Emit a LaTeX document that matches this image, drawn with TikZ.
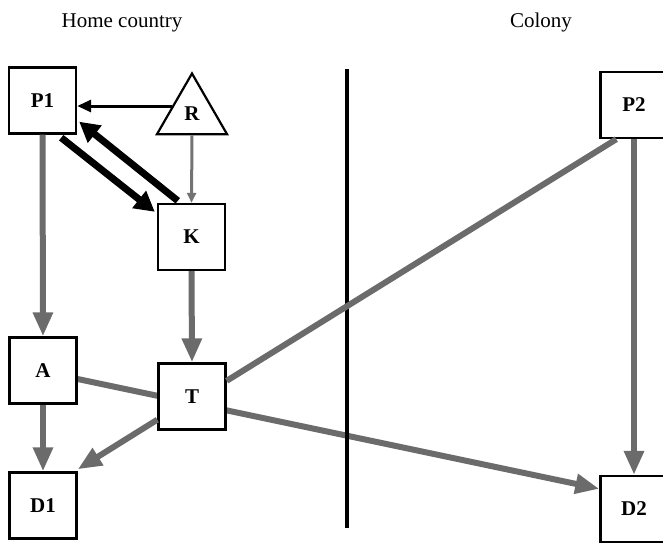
\documentclass[tikz,border=0pt]{standalone}
\usepackage{fontspec}
\setmainfont{Liberation Serif}
\usetikzlibrary{arrows.meta,shapes.geometric,calc,backgrounds}

\begin{document}
\begin{tikzpicture}[x=1pt,y=-1pt,
  box/.style={draw=black,line width=2.4pt,fill=white,minimum width=67pt,minimum height=66pt,
    inner sep=0pt,font=\fontsize{21}{21}\selectfont\bfseries},
  tri/.style={draw=black,line width=2.2pt,fill=white,regular polygon,regular polygon sides=3,
    minimum size=81pt,inner sep=0pt,font=\fontsize{21}{21}\selectfont\bfseries},
  heading/.style={anchor=base,font=\fontsize{21}{21}\selectfont},
  flow/.style={draw=black!58,line width=6pt,-{Triangle[length=24pt,width=19pt]}},
  link/.style={draw=black!58,line width=6pt},
  thinflow/.style={draw=black!55,line width=3pt,-{Triangle[length=10pt,width=9pt]}},
  force/.style={draw=black,line width=7pt,-{Triangle[length=20pt,width=21pt]}},
  push/.style={draw=black,line width=3pt,-{Triangle[length=14pt,width=12pt]}}]
\useasboundingbox (0,0) rectangle (663,542);

% column headings and divider
\node[heading] (home) at (122,27) {Home country};
\node[heading] (colony) at (541,27) {Colony};
\coordinate (divtop) at (347,69);
\coordinate (divbot) at (347,528);
\draw[line width=4pt] (divtop) -- (divbot);

% home-country nodes
\node[box] (P1) at (42.5,100.5) {P1};
\node[tri] (R) at (192,114) {R};
\node[box] (K) at (191.5,237) {K};
\node[box] (A) at (43,370.5) {A};
\node[box] (T) at (192,396.5) {T};
\node[box] (D1) at (43,505.5) {D1};

% colony nodes
\node[box] (P2) at (634,105) {P2};
\node[box] (D2) at (634,509) {D2};

% long link from A to D2, passing behind T
\begin{scope}[on background layer]
\draw[flow] ($(A.east)+(0,8.5)$) -- ($(D2.north west)+(0,14)$);
\end{scope}

% black arrows
\draw[push] ($(R.center)+(-20,-8)$) -- (P1.east |- 0,106);
\draw[force] ($(P1.south east)+(-16,3)$) -- ($(K.north west)+(-2,9)$);
\draw[force] ($(K.north west)+(21,-2)$) -- ($(P1.south east)+(2,-13)$);

% grey arrows
\draw[thinflow] (R.south) -- (K.north);
\draw[flow] (P1.south) -- (A.north);
\draw[flow] (K.south) -- (T.north);
\draw[flow] (A.south) -- (D1.north);
\draw[flow] ($(T.south west)+(0,-11)$) -- ($(D1.north east)+(0,-2)$);
\draw[link] ($(T.north east)+(0,18.5)$) -- ($(P2.south west)+(17,0)$);
\draw[flow] (P2.south) -- (D2.north);
\end{tikzpicture}
\end{document}
